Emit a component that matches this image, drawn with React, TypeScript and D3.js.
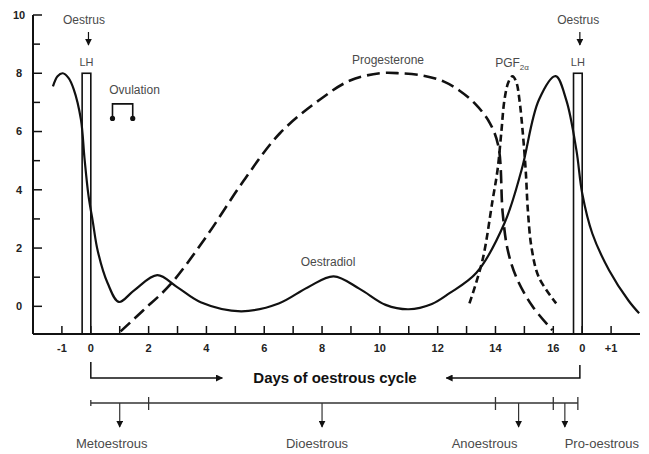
import React, { useRef, useEffect } from 'react'
import * as d3 from 'd3'

const W = 649
const H = 454
const margin = { top: 15, right: 9, bottom: 120, left: 33 }

// hormone curves, [day, relative level]
const oestradiol: [number, number][] = [
  [-1.31, 7.55], [-1.15, 7.9], [-0.97, 8.0], [-0.78, 7.85], [-0.59, 7.45], [-0.34, 6.4],
  [-0.22, 5.1], [-0.08, 3.8], [0.07, 2.9], [0.24, 1.9], [0.58, 0.8], [0.97, 0.15],
  [1.5, 0.55], [2.3, 1.07], [3.0, 0.65], [3.8, 0.14], [5.2, -0.17], [6.5, 0.1],
  [7.5, 0.65], [8.4, 1.03], [9.3, 0.6], [10.2, 0.05], [11.0, -0.1], [11.8, 0.08],
  [12.41, 0.45], [13.34, 1.15], [14.31, 2.85], [14.9, 4.67], [15.5, 7.08], [16.08, 7.9],
  [16.45, 7.08], [16.8, 5.36], [17.0, 3.88], [17.35, 2.5], [17.93, 1.24], [18.6, 0.2],
  [18.97, -0.24]
]

const progesterone: [number, number][] = [
  [1.03, -0.86], [1.8, -0.15], [2.76, 0.76], [4.0, 2.4], [5.28, 4.3], [6.55, 5.95],
  [7.93, 7.1], [8.97, 7.75], [10.0, 8.0], [10.7, 8.0], [11.5, 7.92], [12.2, 7.72],
  [12.76, 7.4], [13.3, 6.95], [13.8, 6.3], [14.1, 5.5], [14.25, 3.2], [14.42, 1.95],
  [14.72, 1.0], [15.28, 0.0], [15.97, -0.82]
]

const pgf: [number, number][] = [
  [13.1, 0.1], [13.55, 1.58], [13.9, 3.64], [14.07, 4.67], [14.2, 5.95], [14.31, 7.08],
  [14.45, 7.7], [14.59, 7.9], [14.72, 7.7], [14.83, 7.08], [14.95, 5.9], [15.05, 4.6],
  [15.12, 3.3], [15.25, 2.0], [15.5, 1.0], [16.1, 0.1]
]

// LH surge bars
const lhStart = [-0.3, 16.7]
const lhEnd = [0, 17]
const lhPeak = [8, 8]

// ovulation window
const ovulation = [0.75, 1.45]

// axis ticks
const xTickDays = [-1, 0, 2, 4, 6, 8, 10, 12, 14, 16, 17, 18]
const xTickText = ['-1', '0', '2', '4', '6', '8', '10', '12', '14', '16', '0', '+1']
const yTicks = [0, 2, 4, 6, 8, 10]

// phases of the cycle
const phaseNames = ['Metoestrous', 'Dioestrous', 'Anoestrous', 'Pro-oestrous']
const phaseDays = [1, 8, 14.8, 16.4]
const phaseBounds = [0, 2, 14, 16, 16.85]

export default function App() {
  const svgRef = useRef<SVGSVGElement>(null)

  useEffect(() => {
    if (!svgRef.current) return
    const svg = d3.select(svgRef.current)
    svg.selectAll('*').remove()

    const x = d3.scaleLinear().domain([-2, 19]).range([margin.left, W - margin.right])
    const y = d3.scaleLinear().domain([-0.95, 10]).range([H - margin.bottom, margin.top])
    const y0 = H - margin.bottom
    const ink = '#111'
    const grey = '#4a4a4a'
    const font = '"Liberation Sans", Arial, sans-serif'

    const defs = svg.append('defs')
    defs.append('marker')
      .attr('id', 'tri')
      .attr('viewBox', '0 0 10 10')
      .attr('refX', 9).attr('refY', 5)
      .attr('markerWidth', 7).attr('markerHeight', 7)
      .attr('markerUnits', 'userSpaceOnUse')
      .attr('orient', 'auto')
      .append('path').attr('d', 'M0,0 L10,5 L0,10 z').attr('fill', ink)

    // axes
    const g = svg.append('g')
    g.append('line')
      .attr('x1', x(-2)).attr('x2', x(-2)).attr('y1', y(10)).attr('y2', y0)
      .attr('stroke', ink).attr('stroke-width', 2)
    g.append('line')
      .attr('x1', x(-2)).attr('x2', x(19)).attr('y1', y0).attr('y2', y0)
      .attr('stroke', ink).attr('stroke-width', 2)

    g.selectAll('.ytick')
      .data(d3.range(0, 11))
      .enter()
      .append('line')
      .attr('x1', x(-2))
      .attr('x2', d => x(-2) + (d % 2 === 0 ? 9 : 7))
      .attr('y1', d => y(d)).attr('y2', d => y(d))
      .attr('stroke', ink).attr('stroke-width', 1.5)

    g.selectAll('.ylab')
      .data(yTicks)
      .enter()
      .append('text')
      .attr('x', 19).attr('y', d => y(d))
      .attr('dy', '0.35em')
      .attr('text-anchor', 'middle')
      .style('font-family', font).style('font-size', '11px').style('font-weight', 'bold')
      .style('fill', '#222')
      .text(d => d)

    g.selectAll('.xtick')
      .data(d3.range(-1, 19))
      .enter()
      .append('line')
      .attr('x1', d => x(d)).attr('x2', d => x(d))
      .attr('y1', y0).attr('y2', y0 - 8)
      .attr('stroke', ink).attr('stroke-width', 1.5)

    g.selectAll('.xlab')
      .data(xTickDays)
      .enter()
      .append('text')
      .attr('x', d => x(d)).attr('y', y0 + 14)
      .attr('dy', '0.35em')
      .attr('text-anchor', 'middle')
      .style('font-family', font).style('font-size', '11px').style('font-weight', 'bold')
      .style('fill', '#222')
      .text((d, i) => xTickText[i])

    // LH bars
    svg.selectAll('.lh')
      .data(lhStart)
      .enter()
      .append('rect')
      .attr('x', d => x(d))
      .attr('y', (d, i) => y(lhPeak[i]))
      .attr('width', (d, i) => x(lhEnd[i]) - x(d))
      .attr('height', (d, i) => y0 - y(lhPeak[i]))
      .attr('fill', 'none').attr('stroke', ink).attr('stroke-width', 1.6)

    // curves
    const line = d3.line<[number, number]>()
      .x(d => x(d[0]))
      .y(d => y(d[1]))
      .curve(d3.curveCatmullRom.alpha(0.5))

    svg.append('path').attr('d', line(oestradiol))
      .attr('fill', 'none').attr('stroke', ink).attr('stroke-width', 2.2)
    svg.append('path').attr('d', line(progesterone))
      .attr('fill', 'none').attr('stroke', ink).attr('stroke-width', 2.6)
      .attr('stroke-dasharray', '13 6')
    svg.append('path').attr('d', line(pgf))
      .attr('fill', 'none').attr('stroke', ink).attr('stroke-width', 2.6)
      .attr('stroke-dasharray', '7 4')

    // curve labels
    const label = (tx: number, ty: number, s: string, size = 12) =>
      svg.append('text')
        .attr('x', tx).attr('y', ty).attr('dy', '0.35em')
        .attr('text-anchor', 'middle')
        .style('font-family', font).style('font-size', size + 'px')
        .style('fill', grey)
        .text(s)

    label(388, 60, 'Progesterone')
    label(328, 262, 'Oestradiol')
    label(x(ovulation[0]) + 22, 90, 'Ovulation')

    const pg = svg.append('text')
      .attr('x', 512).attr('y', 63).attr('dy', '0.35em')
      .attr('text-anchor', 'middle')
      .style('font-family', font).style('font-size', '12px').style('fill', grey)
    pg.append('tspan').text('PGF')
    pg.append('tspan').attr('dy', 3).style('font-size', '8px').text('2α')

    // oestrus markers above LH bars
    lhEnd.forEach((d, i) => {
      const cx = i === 0 ? 84 : x(d) - 4
      label(cx, 20, 'Oestrus')
      label(x((lhStart[i] + d) / 2), 62, 'LH', 11)
      svg.append('line')
        .attr('x1', x((lhStart[i] + d) / 2) + 2).attr('x2', x((lhStart[i] + d) / 2) + 2)
        .attr('y1', 32).attr('y2', 45)
        .attr('stroke', ink).attr('stroke-width', 1.2)
        .attr('marker-end', 'url(#tri)')
    })

    // ovulation bracket
    const oy1 = y(6.95)
    const oy2 = y(6.45)
    svg.append('path')
      .attr('d', `M${x(ovulation[0])},${oy2} V${oy1} H${x(ovulation[1])} V${oy2}`)
      .attr('fill', 'none').attr('stroke', ink).attr('stroke-width', 1.6)
    svg.selectAll('.ovdot')
      .data(ovulation)
      .enter()
      .append('circle')
      .attr('cx', d => x(d)).attr('cy', oy2).attr('r', 2.6)
      .attr('fill', ink)

    // days bracket
    const by = 378
    svg.append('path')
      .attr('d', `M${x(0)},${by - 16} V${by} H${x(4.55)}`)
      .attr('fill', 'none').attr('stroke', ink).attr('stroke-width', 1.5)
      .attr('marker-end', 'url(#tri)')
    svg.append('path')
      .attr('d', `M${x(16.92)},${by - 13} V${by} H${x(12.3)}`)
      .attr('fill', 'none').attr('stroke', ink).attr('stroke-width', 1.5)
      .attr('marker-end', 'url(#tri)')
    svg.append('text')
      .attr('x', 335).attr('y', by).attr('dy', '0.35em')
      .attr('text-anchor', 'middle')
      .style('font-family', font).style('font-size', '15px').style('font-weight', 'bold')
      .style('fill', ink)
      .text('Days of oestrous cycle')

    // phase timeline
    const ty = 403
    svg.append('line')
      .attr('x1', x(phaseBounds[0])).attr('x2', x(phaseBounds[phaseBounds.length - 1]))
      .attr('y1', ty).attr('y2', ty)
      .attr('stroke', '#333').attr('stroke-width', 1.3)
    svg.selectAll('.pb')
      .data(phaseBounds)
      .enter()
      .append('line')
      .attr('x1', d => x(d)).attr('x2', d => x(d))
      .attr('y1', (d, i) => (i === 0 ? ty - 3 : ty - 6))
      .attr('y2', (d, i) => (i === 0 ? ty + 3 : ty + 7))
      .attr('stroke', '#333').attr('stroke-width', 1.3)

    const labelDx = [-8, -5, -34, 37]
    phaseDays.forEach((d, i) => {
      svg.append('line')
        .attr('x1', x(d)).attr('x2', x(d))
        .attr('y1', ty).attr('y2', ty + 24)
        .attr('stroke', '#333').attr('stroke-width', 1.2)
        .attr('marker-end', 'url(#tri)')
      label(x(d) + labelDx[i], 443, phaseNames[i], 13)
    })
  }, [])

  return (
    <svg
      ref={svgRef}
      width={W}
      height={H}
      style={{ position: 'absolute', left: 0, top: 0, background: '#fff' }}
    />
  )
}
